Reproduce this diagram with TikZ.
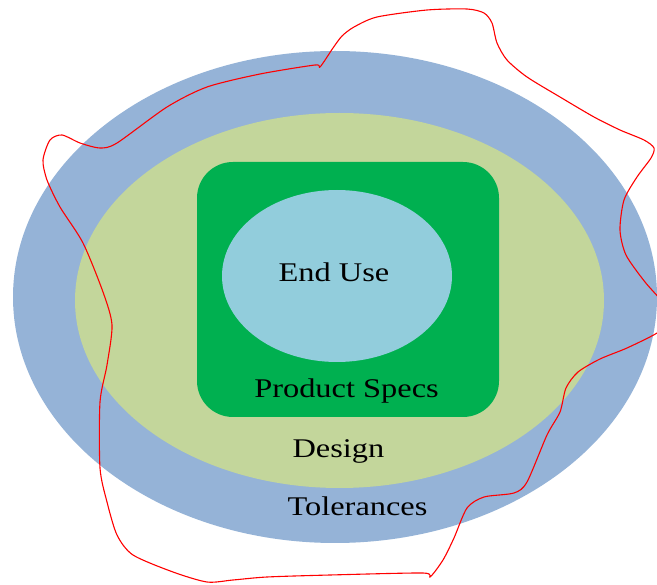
\documentclass[tikz,border=0pt]{standalone}
\usepackage{fontspec}
\setmainfont{Liberation Serif}
\usepackage{graphicx}
\definecolor{outerblue}{RGB}{149,179,215}
\definecolor{lightgreen}{RGB}{195,214,155}
\definecolor{specgreen}{RGB}{0,176,80}
\definecolor{useblue}{RGB}{146,205,220}
\tikzset{
  lbl/.style={anchor=base, inner sep=0pt, text=black, font=\fontsize{27}{32}\selectfont},
  wiggle/.style={draw=red, line width=1.1pt, line join=round}
}
\newcommand{\wide}[1]{\scalebox{1.2}[1]{#1}}
\begin{document}
\begin{tikzpicture}[x=1pt,y=-1pt]
\useasboundingbox (0,0) rectangle (657,585);
\fill[outerblue] (335,297) ellipse [x radius=322, y radius=246];
\fill[lightgreen] (339.5,300.5) ellipse [x radius=264.5, y radius=187.5];
\fill[specgreen, rounded corners=36pt] (197,162) rectangle (499,417);
\fill[useblue] (337,276) ellipse [x radius=115, y radius=86];
\node[lbl] (enduse) at (334,282) {\wide{End Use}};
\node[lbl] (specs) at (346.5,398) {\wide{Product Specs}};
\node[lbl] (design) at (338.5,458) {\wide{Design}};
\node[lbl] (tol) at (357.5,516) {\wide{Tolerances}};
\clip (0,0) rectangle (657,585);
\draw[wiggle] plot[smooth cycle, tension=0.45] coordinates {
 (315,65) (320,67) (333,48) (342,36) (354,27) (377,17) (427,10) (467,9)
 (484,13) (492,23) (497,43) (507,60) (527,77) (560,97) (594,117) (620,130)
 (644,140) (654,148) (651,158) (637,177) (624,200) (620,230) (626,255)
 (645,282) (665,305) (670,320) (657,333) (627,348) (600,359) (578,372)
 (566,388) (560,412) (547,435) (527,482) (514,493) (484,497) (467,508)
 (454,538) (443,560) (430,577) (423,573) (330,575) (267,577) (233,580)
 (207,582) (173,572) (133,555) (117,535) (107,502) (100,468) (100,402)
 (107,365) (112,325) (103,292) (83,243) (60,207) (47,180) (43,160) (50,140)
 (62,135) (80,143) (100,148) (117,143) (167,107) (207,87) (260,74)
};
\end{tikzpicture}
\end{document}
